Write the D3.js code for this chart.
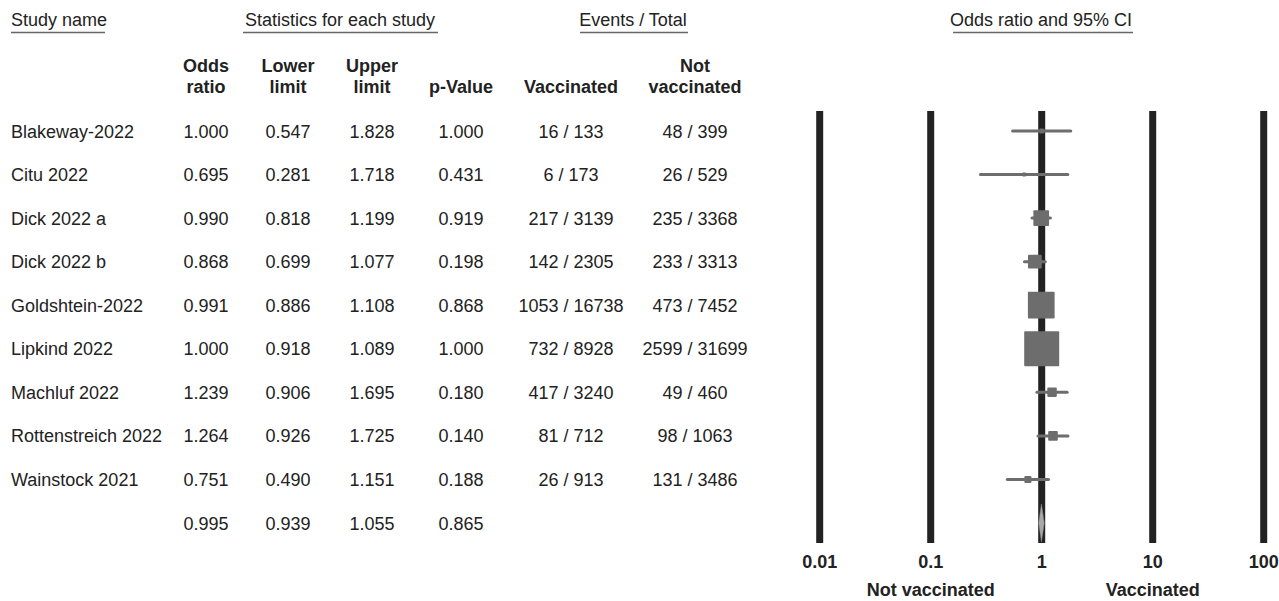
<!DOCTYPE html>
<html>
<head>
<meta charset="utf-8">
<script src="https://cdn.jsdelivr.net/npm/d3@7"></script>
<style>
  body { margin: 0; background: #fff; }
  svg text { font-family: "Liberation Sans", Arial, sans-serif; fill: #222; }
</style>
</head>
<body>
<svg id="chart" width="1279" height="601"></svg>
<script>
var studies = ["Blakeway-2022", "Citu 2022", "Dick 2022 a", "Dick 2022 b", "Goldshtein-2022",
               "Lipkind 2022", "Machluf 2022", "Rottenstreich 2022", "Wainstock 2021"]
var oddsRatio = [1.000, 0.695, 0.990, 0.868, 0.991, 1.000, 1.239, 1.264, 0.751]
var lowerLimit = [0.547, 0.281, 0.818, 0.699, 0.886, 0.918, 0.906, 0.926, 0.490]
var upperLimit = [1.828, 1.718, 1.199, 1.077, 1.108, 1.089, 1.695, 1.725, 1.151]
var pValue = [1.000, 0.431, 0.919, 0.198, 0.868, 1.000, 0.180, 0.140, 0.188]
var vaccinated = ["16 / 133", "6 / 173", "217 / 3139", "142 / 2305", "1053 / 16738",
                  "732 / 8928", "417 / 3240", "81 / 712", "26 / 913"]
var notVaccinated = ["48 / 399", "26 / 529", "235 / 3368", "233 / 3313", "473 / 7452",
                     "2599 / 31699", "49 / 460", "98 / 1063", "131 / 3486"]
// relative weight (%)
var weights = [0.9, 0.4, 9.3, 7.2, 27.0, 46.3, 3.4, 3.5, 1.9]
var summary = {or: 0.995, lower: 0.939, upper: 1.055, p: 0.865}
var axisTicks = [0.01, 0.1, 1, 10, 100]

var svg = d3.select("#chart")
var rowKeys = studies.concat(["summary"])
var y = d3.scalePoint().domain(rowKeys).range([131, 523])
var x = d3.scaleLog().domain([0.01, 100]).range([819.7, 1263.7])
var box = d3.scaleSqrt().domain([0, 46.3]).range([0, 35])
var fmt = d3.format(".3f")

// group headers, underlined
var groups = [
  {label: "Study name", x: 11, anchor: "start", x0: 11, x1: 105},
  {label: "Statistics for each study", x: 340, anchor: "middle", x0: 243, x1: 438},
  {label: "Events / Total", x: 633, anchor: "middle", x0: 580, x1: 688},
  {label: "Odds ratio and 95% CI", x: 1041, anchor: "middle", x0: 953, x1: 1133}
]
svg.selectAll(".grp").data(groups).join("text")
  .attr("class", "grp")
  .attr("x", function(d) { return d.x }).attr("y", 26)
  .attr("text-anchor", function(d) { return d.anchor })
  .style("font-size", "18px")
  .text(function(d) { return d.label })
svg.selectAll(".grpline").data(groups).join("line")
  .attr("x1", function(d) { return d.x0 }).attr("x2", function(d) { return d.x1 })
  .attr("y1", 32.5).attr("y2", 32.5)
  .attr("stroke", "#666").attr("stroke-width", 1.5)

// column headers
var cols = [
  {x: 206, head: ["Odds", "ratio"]},
  {x: 288, head: ["Lower", "limit"]},
  {x: 372, head: ["Upper", "limit"]},
  {x: 461, head: ["", "p-Value"]},
  {x: 571, head: ["", "Vaccinated"]},
  {x: 695, head: ["Not", "vaccinated"]}
]
cols.forEach(function(c) {
  c.head.forEach(function(h, i) {
    svg.append("text")
      .attr("x", c.x).attr("y", 72 + i * 21)
      .attr("text-anchor", "middle")
      .style("font-size", "18px").style("font-weight", "bold")
      .text(h)
  })
})

// table body
var rows = svg.selectAll(".row").data(studies).join("g")
  .attr("class", "row")
  .attr("transform", function(d) { return "translate(0," + (y(d) + 6.5) + ")" })
rows.append("text").attr("x", 11).style("font-size", "18px").text(function(d) { return d })
var cells = [
  function(i) { return fmt(oddsRatio[i]) },
  function(i) { return fmt(lowerLimit[i]) },
  function(i) { return fmt(upperLimit[i]) },
  function(i) { return fmt(pValue[i]) },
  function(i) { return vaccinated[i] },
  function(i) { return notVaccinated[i] }
]
cells.forEach(function(f, k) {
  rows.append("text")
    .attr("x", cols[k].x).attr("text-anchor", "middle")
    .style("font-size", "18px")
    .text(function(d, i) { return f(i) })
})
var sumVals = [summary.or, summary.lower, summary.upper, summary.p]
sumVals.forEach(function(v, k) {
  svg.append("text")
    .attr("x", cols[k].x).attr("y", y("summary") + 6.5)
    .attr("text-anchor", "middle").style("font-size", "18px")
    .text(fmt(v))
})

// reference lines at each decade
svg.selectAll(".grid").data(axisTicks).join("line")
  .attr("class", "grid")
  .attr("x1", function(d) { return x(d) }).attr("x2", function(d) { return x(d) })
  .attr("y1", 111).attr("y2", 543)
  .attr("stroke", "#222").attr("stroke-width", 7)
svg.selectAll(".tick").data(axisTicks).join("text")
  .attr("class", "tick")
  .attr("x", function(d) { return x(d) }).attr("y", 568)
  .attr("text-anchor", "middle")
  .style("font-size", "18px").style("font-weight", "bold")
  .text(function(d) { return d })
svg.append("text").attr("x", x(0.1)).attr("y", 596).attr("text-anchor", "middle")
  .style("font-size", "18px").style("font-weight", "bold").text("Not vaccinated")
svg.append("text").attr("x", x(10)).attr("y", 596).attr("text-anchor", "middle")
  .style("font-size", "18px").style("font-weight", "bold").text("Vaccinated")

// confidence intervals and boxes
var marks = svg.selectAll(".mark").data(studies).join("g").attr("class", "mark")
marks.append("line")
  .attr("x1", function(d, i) { return x(lowerLimit[i]) })
  .attr("x2", function(d, i) { return x(upperLimit[i]) })
  .attr("y1", function(d) { return y(d) }).attr("y2", function(d) { return y(d) })
  .attr("stroke", "#6d6d6d").attr("stroke-width", 3).attr("stroke-linecap", "round")
marks.append("rect")
  .attr("x", function(d, i) { return x(oddsRatio[i]) - Math.max(box(weights[i]), 4) / 2 })
  .attr("y", function(d, i) { return y(d) - Math.max(box(weights[i]), 4) / 2 })
  .attr("width", function(d, i) { return Math.max(box(weights[i]), 4) })
  .attr("height", function(d, i) { return Math.max(box(weights[i]), 4) })
  .attr("rx", 1)
  .attr("fill", "#6d6d6d")

// pooled estimate
var sy = y("summary")
svg.append("path")
  .attr("d", "M" + x(summary.lower) + "," + sy +
             "L" + x(summary.or) + "," + (sy - 19) +
             "L" + x(summary.upper) + "," + sy +
             "L" + x(summary.or) + "," + (sy + 19) + "Z")
  .attr("fill", "#a8a8a8").attr("stroke", "#888").attr("stroke-width", 0.5)
</script>
</body>
</html>
